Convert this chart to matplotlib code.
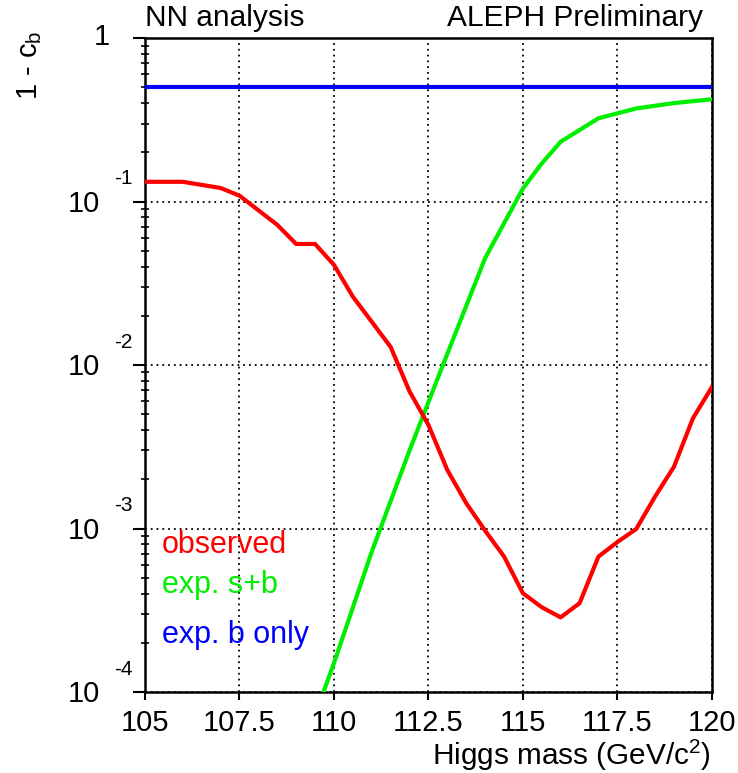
import numpy as np
import matplotlib
matplotlib.use("Agg")
import matplotlib.pyplot as plt

plt.rcParams['font.family'] = ['Liberation Sans', 'DejaVu Sans']
plt.rcParams['mathtext.fontset'] = 'custom'
plt.rcParams['mathtext.rm'] = 'Liberation Sans'
plt.rcParams['mathtext.it'] = 'Liberation Sans'

# observed 1 - c_b
obs_mass = [105, 106, 107, 107.5, 108.5, 109, 109.5, 110, 110.5, 111.5, 112,
            112.5, 113, 113.5, 114, 114.5, 115, 115.5, 116, 116.5, 117, 117.5,
            118, 118.5, 119, 119.5, 120]
obs_clb = [0.132, 0.132, 0.121, 0.1086, 0.072, 0.055, 0.055, 0.041, 0.0262,
           0.0129, 0.0069, 0.0043, 0.00228, 0.00143, 0.00097, 0.000675,
           0.000402, 0.00033, 0.000286, 0.000349, 0.000673, 0.000826,
           0.000993, 0.00157, 0.00239, 0.00472, 0.00731]

# expected, signal + background
sb_mass = [109.5, 110, 111, 112, 113, 114, 115, 115.5, 116, 117, 118, 119, 120]
sb_clb = [7.2e-5, 1.5e-4, 7.2e-4, 3.0e-3, 1.17e-2, 0.045, 0.12, 0.171, 0.232,
          0.323, 0.371, 0.40, 0.422]

# expected, background only
b_mass = [105, 120]
b_clb = [0.5, 0.5]

fig = plt.figure(figsize=(7.38, 7.73), dpi=100)
ax = fig.add_axes([0.1965, 0.1048, 0.768, 0.846])

ax.plot(b_mass, b_clb, color='#0000ff', lw=3, zorder=3)
ax.plot(sb_mass, sb_clb, color='#00ee00', lw=3, zorder=3)
ax.plot(obs_mass, obs_clb, color='#ff0000', lw=3, zorder=3)

ax.set_yscale('log')
ax.set_xlim(105, 120)
ax.set_ylim(1e-4, 1)

xt = [105, 107.5, 110, 112.5, 115, 117.5, 120]
ax.set_xticks(xt)
ax.set_xticklabels(['105', '107.5', '110', '112.5', '115', '117.5', '120'])
ax.set_yticks([1e-4, 1e-3, 1e-2, 1e-1, 1])
ax.yaxis.set_minor_locator(matplotlib.ticker.LogLocator(base=10, subs=np.arange(2, 10)))
ax.yaxis.set_minor_formatter(matplotlib.ticker.NullFormatter())
ax.tick_params(axis='y', which='major', direction='out', length=9, width=1.5, labelleft=False)
ax.tick_params(axis='y', which='minor', direction='inout', length=6, width=1.2)
ax.tick_params(axis='x', which='major', direction='out', length=6, width=1.5,
               labelsize=21, pad=6)
for s in ax.spines.values():
    s.set_linewidth(1.8)

ax.grid(True, which='major', color='black', linestyle=(0, (1, 2.2)), lw=1.3)

# ROOT-style decade labels
for k in [-1, -2, -3, -4]:
    ax.annotate('10', xy=(0, 10.0 ** k), xycoords=('axes fraction', 'data'),
                xytext=(-32.5, -1.5), textcoords='offset points',
                ha='right', va='center', fontsize=21)
    ax.annotate('%d' % k, xy=(0, 10.0 ** k), xycoords=('axes fraction', 'data'),
                xytext=(-22, 9.5), textcoords='offset points',
                ha='left', va='bottom', fontsize=15)
ax.annotate('1', xy=(0, 1), xycoords=('axes fraction', 'data'),
            xytext=(-25, 1), textcoords='offset points',
            ha='right', va='center', fontsize=21)

fig.text(0.1965, 0.958, 'NN analysis', ha='left', va='bottom', fontsize=21.5)
fig.text(0.953, 0.958, 'ALEPH Preliminary', ha='right', va='bottom', fontsize=21.5)
fig.text(0.04, 0.96, '1 - c$_{\\mathregular{b}}$', rotation=90, ha='center',
         va='top', fontsize=21)
fig.text(0.963, 0.0103, 'Higgs mass (GeV/c$^{\\mathregular{2}}$)', ha='right',
         va='baseline', fontsize=21.4)

ax.text(0.03, 0.2125, 'observed', transform=ax.transAxes, color='#ff0000',
        fontsize=22, va='baseline')
ax.text(0.03, 0.151, 'exp. s+b', transform=ax.transAxes, color='#00ee00',
        fontsize=22, va='baseline')
ax.text(0.03, 0.075, 'exp. b only', transform=ax.transAxes, color='#0000ff',
        fontsize=22, va='baseline')

fig.savefig('out.png', dpi=100)
